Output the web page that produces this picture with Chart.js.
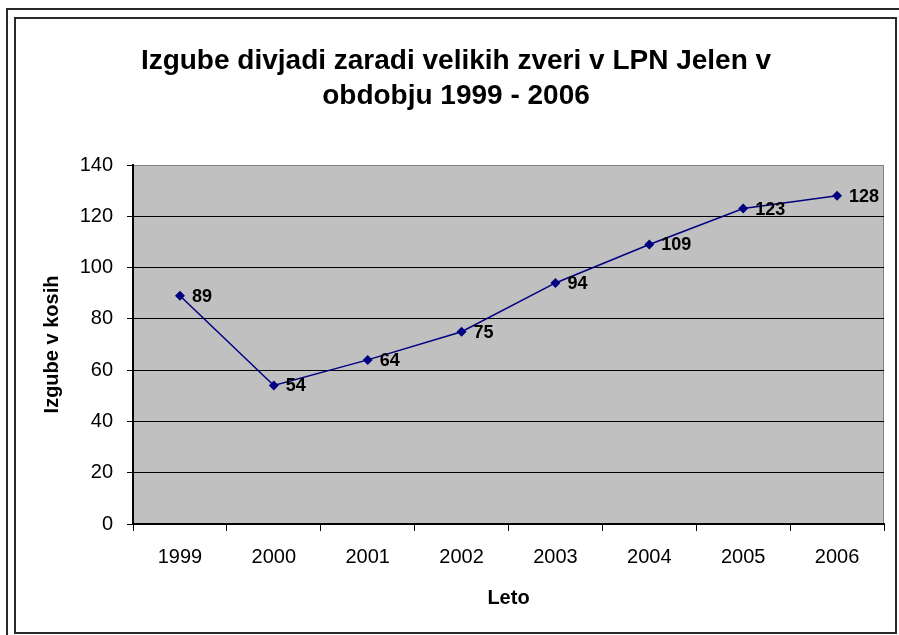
<!DOCTYPE html>
<html>
<head>
<meta charset="utf-8">
<script src="https://cdn.jsdelivr.net/npm/chart.js@4/dist/chart.umd.min.js"></script>
<style>
  html, body { margin: 0; padding: 0; background: #fff; }
  canvas { display: block; }
</style>
</head>
<body>
<canvas id="c" width="899" height="635"></canvas>
<script>
// podatki
const years = ['1999', '2000', '2001', '2002', '2003', '2004', '2005', '2006'];
const losses = [89, 54, 64, 75, 94, 109, 123, 128];
const yTicks = [0, 20, 40, 60, 80, 100, 120, 140];

const chartTitle = ['Izgube divjadi zaradi velikih zveri v LPN Jelen v', 'obdobju 1999 - 2006'];
const xTitle = 'Leto';
const yTitle = 'Izgube v kosih';

const FONT = '"Liberation Sans", Arial, sans-serif';

// okvir in sivo ozadje risalne ploskve
const framePlugin = {
    id: 'frame',
    beforeDraw(chart) {
        const ctx = chart.ctx;
        const a = chart.chartArea;
        ctx.save();
        ctx.fillStyle = '#fff';
        ctx.fillRect(0, 0, chart.width, chart.height);

        ctx.strokeStyle = '#2a2a2a';
        ctx.lineWidth = 2;
        ctx.beginPath();
        ctx.moveTo(7, chart.height);
        ctx.lineTo(7, 9);
        ctx.lineTo(chart.width, 9);
        ctx.stroke();
        ctx.strokeRect(15, 18, 881, 615);

        ctx.fillStyle = '#c0c0c0';
        ctx.fillRect(a.left, a.top, a.right - a.left, a.bottom - a.top);
        ctx.strokeStyle = '#808080';
        ctx.lineWidth = 1;
        ctx.strokeRect(a.left + 0.5, a.top + 0.5, a.right - a.left - 1, a.bottom - a.top - 1);
        ctx.restore();
    }
};

// oznake vrednosti desno od točk
const labelPlugin = {
    id: 'valueLabels',
    afterDatasetsDraw(chart) {
        const ctx = chart.ctx;
        const meta = chart.getDatasetMeta(0);
        ctx.save();
        ctx.font = 'bold 18px ' + FONT;
        ctx.fillStyle = '#000';
        ctx.textAlign = 'left';
        ctx.textBaseline = 'middle';
        meta.data.forEach((pt, i) => {
            ctx.fillText(String(losses[i]), pt.x + 12, pt.y + 1);
        });
        ctx.restore();
    }
};

new Chart(document.getElementById('c'), {
    type: 'line',
    data: {
        labels: years,
        datasets: [{
            data: losses,
            borderColor: '#000080',
            borderWidth: 1.5,
            backgroundColor: '#000080',
            pointStyle: 'rectRot',
            pointRadius: 5,
            pointBorderWidth: 0,
            tension: 0,
            fill: false
        }]
    },
    options: {
        responsive: false,
        animation: false,
        events: [],
        layout: { padding: { left: 28, right: 15, top: 0, bottom: 0 } },
        plugins: {
            legend: { display: false },
            tooltip: { enabled: false },
            title: {
                display: true,
                text: chartTitle,
                color: '#000',
                font: { family: FONT, size: 28, weight: 'bold', lineHeight: 1.25 },
                padding: { top: 44, bottom: 51 }
            }
        },
        scales: {
            x: {
                offset: true,
                grid: {
                    display: true,
                    offset: true,
                    drawOnChartArea: false,
                    drawTicks: true,
                    tickLength: 7,
                    tickColor: '#000',
                    lineWidth: 1
                },
                border: { display: true, color: '#000', width: 2 },
                ticks: {
                    color: '#000',
                    padding: 14,
                    maxRotation: 0,
                    font: { family: FONT, size: 20 }
                },
                title: {
                    display: true,
                    text: xTitle,
                    color: '#000',
                    font: { family: FONT, size: 20, weight: 'bold' },
                    padding: { top: 0, bottom: 25 }
                },
                afterFit(scale) { scale.height = 111; }
            },
            y: {
                min: 0,
                max: 140,
                afterBuildTicks(scale) { scale.ticks = yTicks.map(v => ({ value: v })); },
                grid: {
                    color: ctx => (ctx.tick && ctx.tick.value === 140) ? '#808080' : '#000',
                    lineWidth: 1,
                    tickLength: 6,
                    tickColor: '#000'
                },
                border: { display: true, color: '#000', width: 2 },
                ticks: {
                    color: '#000',
                    padding: 14,
                    font: { family: FONT, size: 20 }
                },
                title: {
                    display: true,
                    text: yTitle,
                    color: '#000',
                    font: { family: FONT, size: 20, weight: 'bold' },
                    padding: { top: 12, bottom: 0 }
                },
                afterFit(scale) { scale.width = 105; }
            }
        }
    },
    plugins: [framePlugin, labelPlugin]
});
</script>
</body>
</html>
